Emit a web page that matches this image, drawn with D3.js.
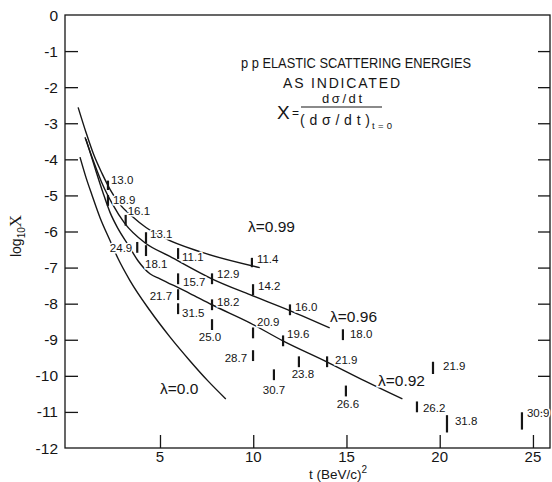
<!DOCTYPE html>
<html><head><meta charset="utf-8">
<script src="https://cdn.jsdelivr.net/npm/d3@7"></script>
<style>
body{margin:0;background:#fff}
svg{display:block}
text{font-family:"Liberation Sans",Arial,sans-serif;fill:#151515}
</style>
</head><body>
<svg id="chart" width="552" height="482"></svg>
<script>
// ---------- data ----------
const xTickValues = [5, 10, 15, 20, 25];
const yTickValues = [0, -1, -2, -3, -4, -5, -6, -7, -8, -9, -10, -11, -12];

const lambdaNames = ["λ=0.99", "λ=0.96", "λ=0.92", "λ=0.0"];
// curves: [t, log10 X]
const curveL099 = [[0.61,-2.56],[1.03,-3.25],[1.46,-3.89],[1.89,-4.39],[2.32,-4.83],[2.85,-5.25],[3.50,-5.58],[4.25,-5.89],[5.27,-6.19],[7.14,-6.56],[10.35,-7.0]];
const curveL096 = [[0.98,-3.39],[1.52,-4.17],[1.94,-4.72],[2.43,-5.22],[3.12,-5.78],[4.19,-6.31],[5.53,-6.69],[7.78,-7.31],[9.82,-7.75],[11.96,-8.19],[14.1,-8.67]];
const curveL092 = [[1.03,-3.44],[1.52,-4.25],[1.94,-4.92],[2.32,-5.47],[2.75,-5.92],[3.28,-6.36],[3.82,-6.81],[4.46,-7.17],[5.0,-7.31],[6.61,-7.72],[7.78,-8.03],[9.82,-8.53],[11.59,-9.03],[13.94,-9.61],[15.98,-10.14],[18.0,-10.64]];
const curveL000 = [[0.71,-3.94],[1.03,-4.5],[1.36,-5.0],[1.78,-5.61],[2.32,-6.25],[2.75,-6.75],[3.39,-7.36],[4.46,-8.19],[5.53,-8.92],[6.6,-9.58],[7.57,-10.14],[8.53,-10.64]];

// measured points: incident energies (BeV)
const energyLabels = ["13.0","18.9","16.1","13.1","24.9","18.1","11.1","15.7","21.7","31.5","12.9","18.2","25.0","11.4","14.2","20.9","28.7","30.7","16.0","19.6","23.8","21.9","18.0","26.6","21.9","26.2","31.8","30.9"];
const pointT =    [2.21,2.21,3.16,4.25,3.78,4.25,5.97,5.97,5.97,5.97,7.79,7.79,7.79,9.93,9.99,9.99,9.99,11.11,11.97,11.6,12.45,13.96,14.81,14.97,19.64,18.78,20.39,24.41];
const pointLogX = [-4.72,-5.14,-5.69,-6.17,-6.44,-6.53,-6.61,-7.31,-7.75,-8.14,-7.31,-8.03,-8.58,-6.86,-7.61,-8.81,-9.44,-9.97,-8.17,-9.03,-9.61,-9.61,-8.86,-10.42,-9.78,-10.86,-11.33,-11.25];
const pointErr =  [0.13,0.15,0.15,0.15,0.15,0.15,0.15,0.15,0.15,0.15,0.15,0.15,0.15,0.13,0.15,0.15,0.15,0.15,0.15,0.15,0.15,0.15,0.15,0.15,0.17,0.15,0.24,0.24];

// ---------- layout (not data) ----------
const labelLayout = [[3,-5,"start"],[5,-1,"start"],[2,-9,"start"],[4,-4,"start"],[-5,0,"end"],[-1,13,"start"],[4,3,"start"],[5,3,"start"],[-6,1,"end"],[4,4,"start"],[5,-5,"start"],[5,-3,"start"],[-2,12,"middle"],[5,-4,"start"],[5,-4,"start"],[4,-11,"start"],[-6,2,"end"],[0,15,"middle"],[5,-3,"start"],[4,-7,"start"],[4,12,"middle"],[8,-2,"start"],[7,-1,"start"],[2,13,"middle"],[10,-2,"start"],[6,1,"start"],[8,-3,"start"],[5,-8,"start"]];
const lambdaLabelAt = [[9.72,-5.86],[14.12,-8.34],[16.69,-10.12],[5.0,-10.34]];

const svg = d3.select("#chart");
const x = d3.scaleLinear().domain([0, 26]).range([66.75, 551.6]);
const y = d3.scaleLinear().domain([0, -12]).range([15, 448]);
const ink = "#161616";

// frame
const fL = 65, fR = 550, fT = y(0), fB = y(-12);
svg.append("rect").attr("x", fL).attr("y", fT).attr("width", fR - fL).attr("height", fB - fT)
  .attr("fill", "none").attr("stroke", ink).attr("stroke-width", 1.3);

const innerY = yTickValues.filter(v => v !== 0 && v !== -12);
// y axis (left) - inward ticks
const gy = svg.append("g").attr("transform", `translate(${fL},0)`)
  .call(d3.axisRight(y).tickValues(innerY).tickSize(13).tickFormat(""));
gy.select(".domain").remove();
gy.selectAll("line").attr("stroke", ink).attr("stroke-width", 1.3);
// right axis inward ticks
const gyr = svg.append("g").attr("transform", `translate(${fR},0)`)
  .call(d3.axisLeft(y).tickValues(innerY).tickSize(12).tickFormat(""));
gyr.select(".domain").remove();
gyr.selectAll("line").attr("stroke", ink).attr("stroke-width", 1.3);

// y tick labels
svg.append("g").selectAll("text").data(yTickValues).join("text")
  .attr("x", 58).attr("y", d => y(d)).attr("dy", "0.36em")
  .attr("text-anchor", "end").attr("font-size", 15.5)
  .text(d => d === 0 ? "0" : "-" + Math.abs(d));

// x axis ticks (inward)
const gx = svg.append("g").attr("transform", `translate(0,${fB})`)
  .call(d3.axisTop(x).tickValues(xTickValues).tickSize(13).tickFormat(""));
gx.select(".domain").remove();
gx.selectAll("line").attr("stroke", ink).attr("stroke-width", 1.3);
svg.append("g").selectAll("text").data(xTickValues).join("text")
  .attr("x", d => x(d)).attr("y", fB + 9).attr("dy", "0.36em")
  .attr("text-anchor", "middle").attr("font-size", 15).text(d => d);

// axis titles
const xt = svg.append("text").attr("x", 338).attr("y", 479).attr("text-anchor", "middle").attr("font-size", 13.5);
xt.append("tspan").text("t (BeV/c)");
xt.append("tspan").attr("dy", -6).attr("font-size", 10).text("2");

const yt = svg.append("text").attr("transform", "translate(21,236) rotate(-90)").attr("text-anchor", "middle").attr("font-size", 14);
yt.append("tspan").text("log");
yt.append("tspan").attr("dy", 4).attr("font-size", 10).text("10");
yt.append("tspan").attr("dy", -4).attr("font-size", 17).attr("font-family", "Liberation Serif, serif").text("X");

// curves
const line = d3.line().x(d => x(d[0])).y(d => y(d[1])).curve(d3.curveMonotoneX);
const curves = [curveL099, curveL096, curveL092, curveL000];
svg.append("g").selectAll("path").data(curves).join("path")
  .attr("d", line).attr("fill", "none").attr("stroke", ink).attr("stroke-width", 1.4);

// heading
svg.append("text").attr("x", 241).attr("y", 68).attr("font-size", 14)
  .attr("textLength", 230).attr("lengthAdjust", "spacingAndGlyphs").text("p p ELASTIC SCATTERING ENERGIES");
svg.append("text").attr("x", 283).attr("y", 88).attr("font-size", 14)
  .attr("textLength", 117).attr("lengthAdjust", "spacing").text("AS INDICATED");

// formula
svg.append("text").attr("x", 277).attr("y", 119).attr("font-size", 19).attr("font-family", "Liberation Serif, serif").text("X");
svg.append("text").attr("x", 292).attr("y", 117).attr("font-size", 12).text("=");
svg.append("text").attr("x", 322).attr("y", 103).attr("font-size", 13)
  .attr("textLength", 40).attr("lengthAdjust", "spacing").text("dσ/dt");
svg.append("line").attr("x1", 301).attr("x2", 382).attr("y1", 107).attr("y2", 107).attr("stroke", ink).attr("stroke-width", 1.2);
svg.append("text").attr("x", 300).attr("y", 125).attr("font-size", 14)
  .attr("textLength", 70).attr("lengthAdjust", "spacing").text("(dσ/dt)");
svg.append("text").attr("x", 372).attr("y", 129).attr("font-size", 9.5)
  .attr("textLength", 20).attr("lengthAdjust", "spacing").text("t=0");

// lambda labels
svg.append("g").selectAll("text").data(lambdaNames).join("text")
  .attr("x", (d, i) => x(lambdaLabelAt[i][0])).attr("y", (d, i) => y(lambdaLabelAt[i][1]))
  .attr("dy", "0.36em").attr("font-size", 15.5)
  .attr("stroke", "#fff").attr("stroke-width", 3).attr("paint-order", "stroke")
  .text(d => d);

// point labels
svg.append("g").selectAll("text").data(energyLabels).join("text")
  .attr("x", (d, i) => x(pointT[i]) + labelLayout[i][0])
  .attr("y", (d, i) => y(pointLogX[i]) + labelLayout[i][1])
  .attr("dy", "0.36em").attr("text-anchor", (d, i) => labelLayout[i][2])
  .attr("font-size", 11.5)
  .attr("stroke", "#fff").attr("stroke-width", 3).attr("paint-order", "stroke")
  .text(d => d);

// point markers (vertical bars)
svg.append("g").selectAll("line").data(pointT).join("line")
  .attr("x1", d => x(d)).attr("x2", d => x(d))
  .attr("y1", (d, i) => y(pointLogX[i] + pointErr[i]))
  .attr("y2", (d, i) => y(pointLogX[i] - pointErr[i]))
  .attr("stroke", ink).attr("stroke-width", 2.2);
</script>
</body></html>
